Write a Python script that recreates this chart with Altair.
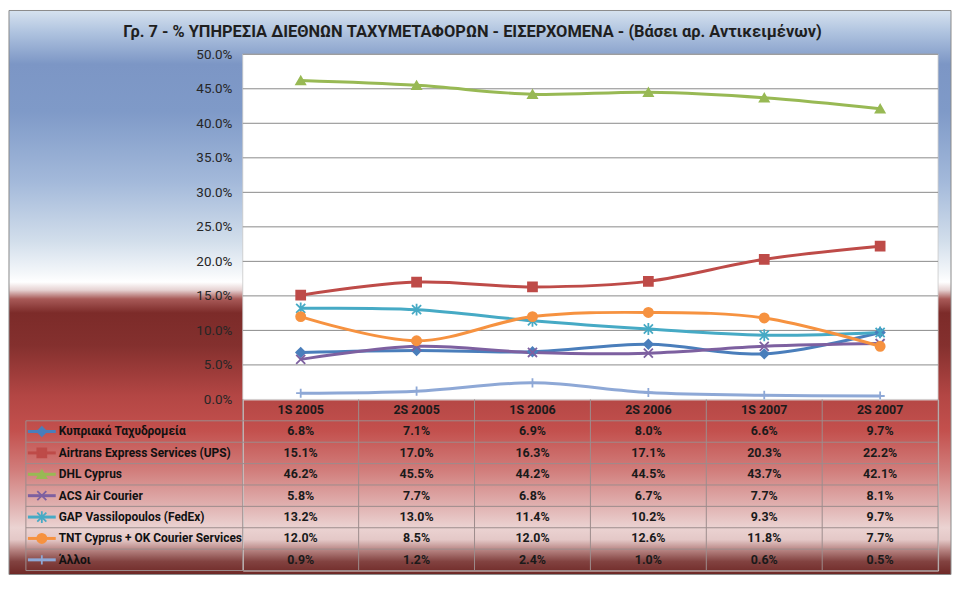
import altair as alt
import pandas as pd

# ---------------- data ----------------
cats = ["1S 2005", "2S 2005", "1S 2006", "2S 2006", "1S 2007", "2S 2007"]
series = [
    "Κυπριακά Ταχυδρομεία",
    "Airtrans Express Services (UPS)",
    "DHL Cyprus",
    "ACS Air Courier",
    "GAP Vassilopoulos (FedEx)",
    "TNT Cyprus + OK Courier Services",
    "Άλλοι",
]
kyp = [6.8, 7.1, 6.9, 8.0, 6.6, 9.7]
ups = [15.1, 17.0, 16.3, 17.1, 20.3, 22.2]
dhl = [46.2, 45.5, 44.2, 44.5, 43.7, 42.1]
acs = [5.8, 7.7, 6.8, 6.7, 7.7, 8.1]
gap = [13.2, 13.0, 11.4, 10.2, 9.3, 9.7]
tnt = [12.0, 8.5, 12.0, 12.6, 11.8, 7.7]
other = [0.9, 1.2, 2.4, 1.0, 0.6, 0.5]
all_vals = [kyp, ups, dhl, acs, gap, tnt, other]
y_ticks = [0, 5, 10, 15, 20, 25, 30, 35, 40, 45, 50]
title_text = "Γρ. 7 - % ΥΠΗΡΕΣΙΑ ΔΙΕΘΝΩΝ ΤΑΧΥΜΕΤΑΦΟΡΩΝ - ΕΙΣΕΡΧΟΜΕΝΑ - (Βάσει αρ. Αντικειμένων)"

# ---------------- styles ----------------
colors = ["#4A7EBB", "#BE4B48", "#98B954", "#7D60A0", "#46AAC5", "#F69240", "#8EA8D6"]
shapes = [
    "diamond",
    "square",
    "triangle-up",
    "M-1,-1L1,1M1,-1L-1,1",
    "M-1,-1L1,1M1,-1L-1,1M0,-1.3L0,1.3",
    "circle",
    "M0,-1L0,1M-1,0L1,0",
]
sizes = [80, 85, 120, 70, 80, 110, 60]
FONT = "Roboto"
W, H = 699, 347
ROW = 21.5
TH = ROW * 8

grad_pts = [
    (8, "#d6e2ef"), (30, "#afc3df"), (62, "#7c96c5"), (110, "#7f9ac8"),
    (180, "#a3b9da"), (240, "#d2deeb"), (272, "#f4f7fa"), (281, "#ffffff"),
    (289, "#e6d2d2"), (298, "#a85a58"), (312, "#7c2b29"), (345, "#84302e"),
    (395, "#b34644"), (430, "#c3504d"), (470, "#d17d7b"), (505, "#e0b0af"),
    (528, "#ebd3d2"), (540, "#e4c8c7"), (550, "#b88684"), (562, "#824240"),
    (575, "#6e2826"),
]
grad = alt.Gradient(
    gradient="linear",
    stops=[alt.GradientStop(offset=(y - 8) / 567, color=c) for y, c in grad_pts],
    x1=0, x2=0, y1=0, y2=1,
)

rows = []
for i, (name, vals) in enumerate(zip(series, all_vals)):
    for c, v in zip(cats, vals):
        rows.append({"series": name, "cat": c, "value": v, "r": i + 1})
df = pd.DataFrame(rows)
one = pd.DataFrame({"k": [0]})

color_scale = alt.Scale(domain=series, range=colors)
shape_scale = alt.Scale(domain=series, range=shapes)
size_scale = alt.Scale(domain=series, range=sizes)

y_axis = alt.Axis(
    values=y_ticks, labelExpr="format(datum.value, '.1f') + '%'", grid=False,
    domain=False, ticks=False, labelPadding=11, labelFontSize=13.5, labelFont=FONT,
    labelColor="#262626", title=None, zindex=1,
)
y_scale = alt.Scale(domain=[0, 50], nice=False, zero=True)
x_pt = alt.X("cat:N", scale=alt.Scale(type="point", domain=cats, padding=0.5), axis=None)

# ---------------- top chart ----------------
bg = alt.Chart(one).mark_rect(fill=grad, stroke="#8a8a8a", strokeWidth=1).encode(
    x=alt.value(-235), x2=alt.value(712), y=alt.value(-44), y2=alt.value(523)
)
plot_bg = alt.Chart(one).mark_rect(fill="white", stroke="#c8c8c8", strokeWidth=0.8).encode(
    x=alt.value(0), x2=alt.value(W), y=alt.value(0), y2=alt.value(H)
)
grid = alt.Chart(pd.DataFrame({"value": y_ticks[1:]})).mark_rule(
    color="#8a8a8a", strokeWidth=1
).encode(y=alt.Y("value:Q", scale=y_scale, axis=y_axis), x=alt.value(0), x2=alt.value(W))
title = alt.Chart(one).mark_text(
    text=title_text, font=FONT, fontSize=16.5, fontWeight="bold", color="#1f1f1f",
    align="center", baseline="middle",
).encode(x=alt.value(231), y=alt.value(-22))

lines = alt.Chart(df).mark_line(interpolate="catmull-rom", strokeWidth=3).encode(
    x=x_pt,
    y=alt.Y("value:Q", scale=y_scale, axis=y_axis),
    color=alt.Color("series:N", scale=color_scale, legend=None),
)
points = alt.Chart(df).mark_point(filled=True, strokeWidth=1.8, opacity=1).encode(
    x=x_pt,
    y=alt.Y("value:Q", scale=y_scale, axis=y_axis),
    fill=alt.Fill("series:N", scale=color_scale, legend=None),
    stroke=alt.Stroke("series:N", scale=color_scale, legend=None),
    shape=alt.Shape("series:N", scale=shape_scale, legend=None),
    size=alt.Size("series:N", scale=size_scale, legend=None),
)
top = alt.layer(bg, plot_bg, grid, lines, points, title).properties(width=W, height=H)

# ---------------- data table ----------------
x_band = alt.X("cat:N", scale=alt.Scale(type="band", domain=cats, paddingInner=0, paddingOuter=0),
               axis=None, bandPosition=0.5)
x_band0 = alt.X("cat:N", scale=alt.Scale(type="band", domain=cats, paddingInner=0, paddingOuter=0),
                axis=None, bandPosition=0)
rdom = list(range(8))
y_band = alt.Y("r:O", scale=alt.Scale(type="band", domain=rdom, paddingInner=0, paddingOuter=0),
               axis=None, bandPosition=0.5)
y_band0 = alt.Y("r:O", scale=alt.Scale(type="band", domain=rdom, paddingInner=0, paddingOuter=0),
                axis=None, bandPosition=0)

GRIDC = "#9c8c8c"
hdr = alt.Chart(pd.DataFrame({"cat": cats, "r": [0] * len(cats)})).mark_text(
    font=FONT, fontSize=12.5, fontWeight="bold", color="#1a1a1a", baseline="middle"
).encode(x=x_band, y=y_band, text="cat:N")
vals_txt = alt.Chart(df).transform_calculate(
    label="format(datum.value, '.1f') + '%'"
).mark_text(font=FONT, fontSize=12.5, fontWeight="bold", color="#1a1a1a", baseline="middle").encode(
    x=x_band, y=y_band, text="label:N"
)
lab_df = pd.DataFrame({"series": series, "r": list(range(1, 8))})
row_lab = alt.Chart(lab_df).mark_text(
    font=FONT, fontSize=12, fontWeight="bold", color="#111111", align="left", baseline="middle"
).encode(x=alt.value(-185), y=y_band, text="series:N")
leg_line = alt.Chart(lab_df).mark_rule(strokeWidth=3).encode(
    x=alt.value(-216), x2=alt.value(-188), y=y_band,
    color=alt.Color("series:N", scale=color_scale, legend=None),
)
leg_pt = alt.Chart(lab_df).mark_point(filled=True, strokeWidth=1.8, opacity=1).encode(
    x=alt.value(-202), y=y_band,
    fill=alt.Fill("series:N", scale=color_scale, legend=None),
    stroke=alt.Stroke("series:N", scale=color_scale, legend=None),
    shape=alt.Shape("series:N", scale=shape_scale, legend=None),
    size=alt.Size("series:N", scale=size_scale, legend=None),
)
hlines = alt.Chart(pd.DataFrame({"r": list(range(1, 8))})).mark_rule(
    color=GRIDC, strokeWidth=1
).encode(y=y_band0, x=alt.value(-218), x2=alt.value(W))
hbottom = alt.Chart(one).mark_rule(color=GRIDC, strokeWidth=1).encode(
    y=alt.value(TH), x=alt.value(-218), x2=alt.value(W)
)
vlines = alt.Chart(pd.DataFrame({"cat": cats})).mark_rule(color=GRIDC, strokeWidth=1).encode(
    x=x_band0, y=alt.value(0), y2=alt.value(TH)
)
vright = alt.Chart(one).mark_rule(color=GRIDC, strokeWidth=1).encode(
    x=alt.value(W), y=alt.value(0), y2=alt.value(TH)
)
vleft = alt.Chart(one).mark_rule(color=GRIDC, strokeWidth=1).encode(
    x=alt.value(-218), y=alt.value(ROW), y2=alt.value(TH)
)
table = alt.layer(
    hlines, hbottom, vlines, vright, vleft, leg_line, leg_pt, row_lab, hdr, vals_txt
).properties(width=W, height=TH)

chart = alt.vconcat(top, table, spacing=0, bounds="flush").properties(padding=0).configure_view(
    strokeWidth=0
).configure(background="white")

chart.save("out.html", embed_options={"renderer": "svg", "actions": False})
